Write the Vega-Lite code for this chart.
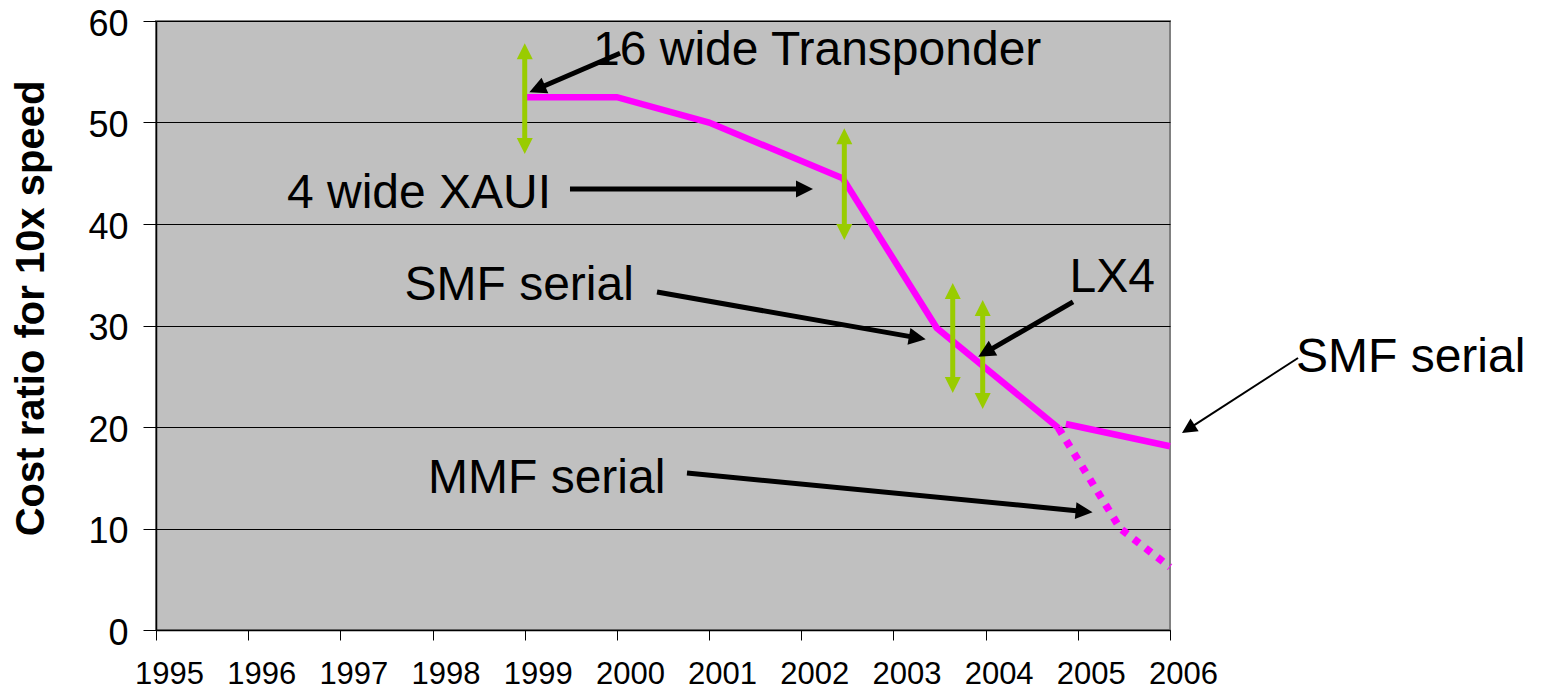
{
  "$schema": "https://vega.github.io/schema/vega-lite/v6.json",
  "width": 1014,
  "height": 609,
  "autosize": {"type": "none"},
  "padding": {"left": 156, "top": 21, "right": 373, "bottom": 60},
  "background": "white",
  "config": {
    "view": {"fill": "#C0C0C0", "stroke": "#808080", "strokeWidth": 2},
    "font": "Liberation Sans"
  },
  "datasets": {
    "lines": [
      {"series": "Main", "x": 1999, "y": 52.5},
      {"series": "Main", "x": 2000, "y": 52.5},
      {"series": "Main", "x": 2001, "y": 50},
      {"series": "Main", "x": 2002.45, "y": 44.5},
      {"series": "Main", "x": 2003.47, "y": 29.75},
      {"series": "Main", "x": 2004.79, "y": 19.9},
      {"series": "SMF serial", "x": 2004.87, "y": 20.3},
      {"series": "SMF serial", "x": 2006, "y": 18.1},
      {"series": "MMF serial", "x": 2004.79, "y": 19.9},
      {"series": "MMF serial", "x": 2005.46, "y": 10},
      {"series": "MMF serial", "x": 2006, "y": 6.2}
    ],
    "greenShafts": [
      {"x": 1999, "y": 56.3, "y2": 48.4},
      {"x": 2002.467, "y": 47.93, "y2": 39.92},
      {"x": 2003.643, "y": 32.69, "y2": 24.85},
      {"x": 2003.968, "y": 31.01, "y2": 23.27}
    ],
    "greenTips": [
      {"x": 1999, "y": 57.8, "dir": "up"},
      {"x": 1999, "y": 46.9, "dir": "down"},
      {"x": 2002.467, "y": 49.43, "dir": "up"},
      {"x": 2002.467, "y": 38.42, "dir": "down"},
      {"x": 2003.643, "y": 34.19, "dir": "up"},
      {"x": 2003.643, "y": 23.35, "dir": "down"},
      {"x": 2003.968, "y": 32.51, "dir": "up"},
      {"x": 2003.968, "y": 21.77, "dir": "down"}
    ],
    "blackShafts": [
      {"id": "a1", "x": 2000.034, "y": 56.82, "x2": 1999.19, "y2": 53.52},
      {"id": "a2", "x": 1999.491, "y": 43.45, "x2": 2001.975, "y2": 43.45},
      {"id": "a3", "x": 2000.435, "y": 33.3, "x2": 2003.2, "y2": 28.88},
      {"id": "a4", "x": 2004.948, "y": 32.32, "x2": 2004.052, "y2": 27.62},
      {"id": "a5", "x": 2007.389, "y": 26.8, "x2": 2006.259, "y2": 20.16},
      {"id": "a6", "x": 2000.76, "y": 15.47, "x2": 2005.011, "y2": 11.73}
    ],
    "blackTips": [
      {"id": "a1", "x": 1999.05, "y": 52.98},
      {"id": "a2", "x": 2002.127, "y": 43.45},
      {"id": "a3", "x": 2003.35, "y": 28.64},
      {"id": "a4", "x": 2003.92, "y": 26.93},
      {"id": "a5", "x": 2006.13, "y": 19.41},
      {"id": "a6", "x": 2005.16, "y": 11.6}
    ],
    "labels": [
      {"label": "16 wide Transponder", "x": 1999.741, "y": 55.67},
      {"label": "4 wide XAUI", "x": 1996.421, "y": 41.55},
      {"label": "SMF serial", "x": 1997.696, "y": 32.51},
      {"label": "LX4", "x": 2004.91, "y": 33.33},
      {"label": "SMF serial", "x": 2007.367, "y": 25.45},
      {"label": "MMF serial", "x": 1997.951, "y": 13.47}
    ]
  },
  "encoding": {
    "x": {
      "field": "x",
      "type": "quantitative",
      "scale": {"domain": [1995, 2006], "nice": false, "zero": false},
      "axis": {
        "title": null,
        "values": [1995, 1996, 1997, 1998, 1999, 2000, 2001, 2002, 2003, 2004, 2005, 2006],
        "format": "d",
        "grid": false,
        "tickSize": 10,
        "tickColor": "black",
        "domainColor": "black",
        "domainWidth": 1.5,
        "labelFontSize": 31,
        "labelColor": "black",
        "labelFont": "Liberation Sans",
        "labelOffset": 13,
        "labelBaseline": "alphabetic",
        "labelPadding": 43,
        "labelFlush": false,
        "labelOverlap": false
      }
    },
    "y": {
      "field": "y",
      "type": "quantitative",
      "scale": {"domain": [0, 60], "nice": false},
      "axis": {
        "title": "Cost ratio for 10x speed",
        "values": [0, 10, 20, 30, 40, 50, 60],
        "grid": true,
        "gridColor": "black",
        "gridWidth": 1,
        "gridOpacity": 1,
        "tickSize": 13,
        "tickColor": "black",
        "domainColor": "black",
        "domainWidth": 1.5,
        "labelFontSize": 36,
        "labelColor": "black",
        "labelFont": "Liberation Sans",
        "labelPadding": 15,
        "labelOffset": 3,
        "labelFlush": false,
        "titleFont": "Liberation Sans",
        "titleFontSize": 40,
        "titleFontWeight": "bold",
        "titleColor": "black",
        "titleAngle": 270,
        "titleAlign": "center",
        "titleBaseline": "alphabetic",
        "titleX": -113,
        "titleY": 287
      }
    }
  },
  "layer": [
    {
      "data": {"name": "lines"},
      "transform": [{"filter": "datum.series !== 'MMF serial'"}],
      "mark": {"type": "line", "color": "#FF00FF", "strokeWidth": 6.5, "strokeCap": "butt"},
      "encoding": {"detail": {"field": "series", "type": "nominal"}}
    },
    {
      "data": {"name": "lines"},
      "transform": [{"filter": "datum.series === 'MMF serial'"}],
      "mark": {"type": "line", "color": "#FF00FF", "strokeWidth": 7.5, "strokeCap": "butt", "strokeDash": [7, 8]},
      "encoding": {"detail": {"field": "series", "type": "nominal"}}
    },
    {
      "data": {"name": "greenShafts"},
      "mark": {"type": "rule", "color": "#99CC00", "strokeWidth": 5},
      "encoding": {"y2": {"field": "y2"}}
    },
    {
      "data": {"name": "greenTips"},
      "mark": {"type": "point", "filled": true, "color": "#99CC00", "opacity": 1, "size": 256, "strokeWidth": 0},
      "encoding": {
        "shape": {
          "field": "dir",
          "type": "nominal",
          "scale": {"domain": ["up", "down"], "range": ["M0,0L-1,2L1,2Z", "M0,0L-1,-2L1,-2Z"]},
          "legend": null
        }
      }
    },
    {
      "data": {"name": "blackShafts"},
      "mark": {"type": "rule", "color": "black"},
      "encoding": {
        "x2": {"field": "x2"},
        "y2": {"field": "y2"},
        "strokeWidth": {
          "field": "id",
          "type": "nominal",
          "scale": {"type": "ordinal", "domain": ["a1", "a2", "a3", "a4", "a5", "a6"], "range": [5, 5, 5, 5, 2, 5]},
          "legend": null
        }
      }
    },
    {
      "data": {"name": "blackTips"},
      "mark": {"type": "point", "filled": true, "color": "black", "opacity": 1, "strokeWidth": 0, "shape": "M0,0L-1,2L1,2Z"},
      "encoding": {
        "angle": {
          "field": "id",
          "type": "nominal",
          "scale": {"type": "ordinal", "domain": ["a1", "a2", "a3", "a4", "a5", "a6"], "range": [246.7, 90, 99.98, 240, 237.1, 95.53]},
          "legend": null
        },
        "size": {
          "field": "id",
          "type": "nominal",
          "scale": {"type": "ordinal", "domain": ["a1", "a2", "a3", "a4", "a5", "a6"], "range": [289, 289, 289, 289, 225, 289]},
          "legend": null
        }
      }
    },
    {
      "data": {"name": "labels"},
      "mark": {"type": "text", "font": "Liberation Sans", "fontSize": 48, "align": "left", "baseline": "alphabetic", "color": "black"},
      "encoding": {"text": {"field": "label", "type": "nominal"}}
    }
  ]
}
